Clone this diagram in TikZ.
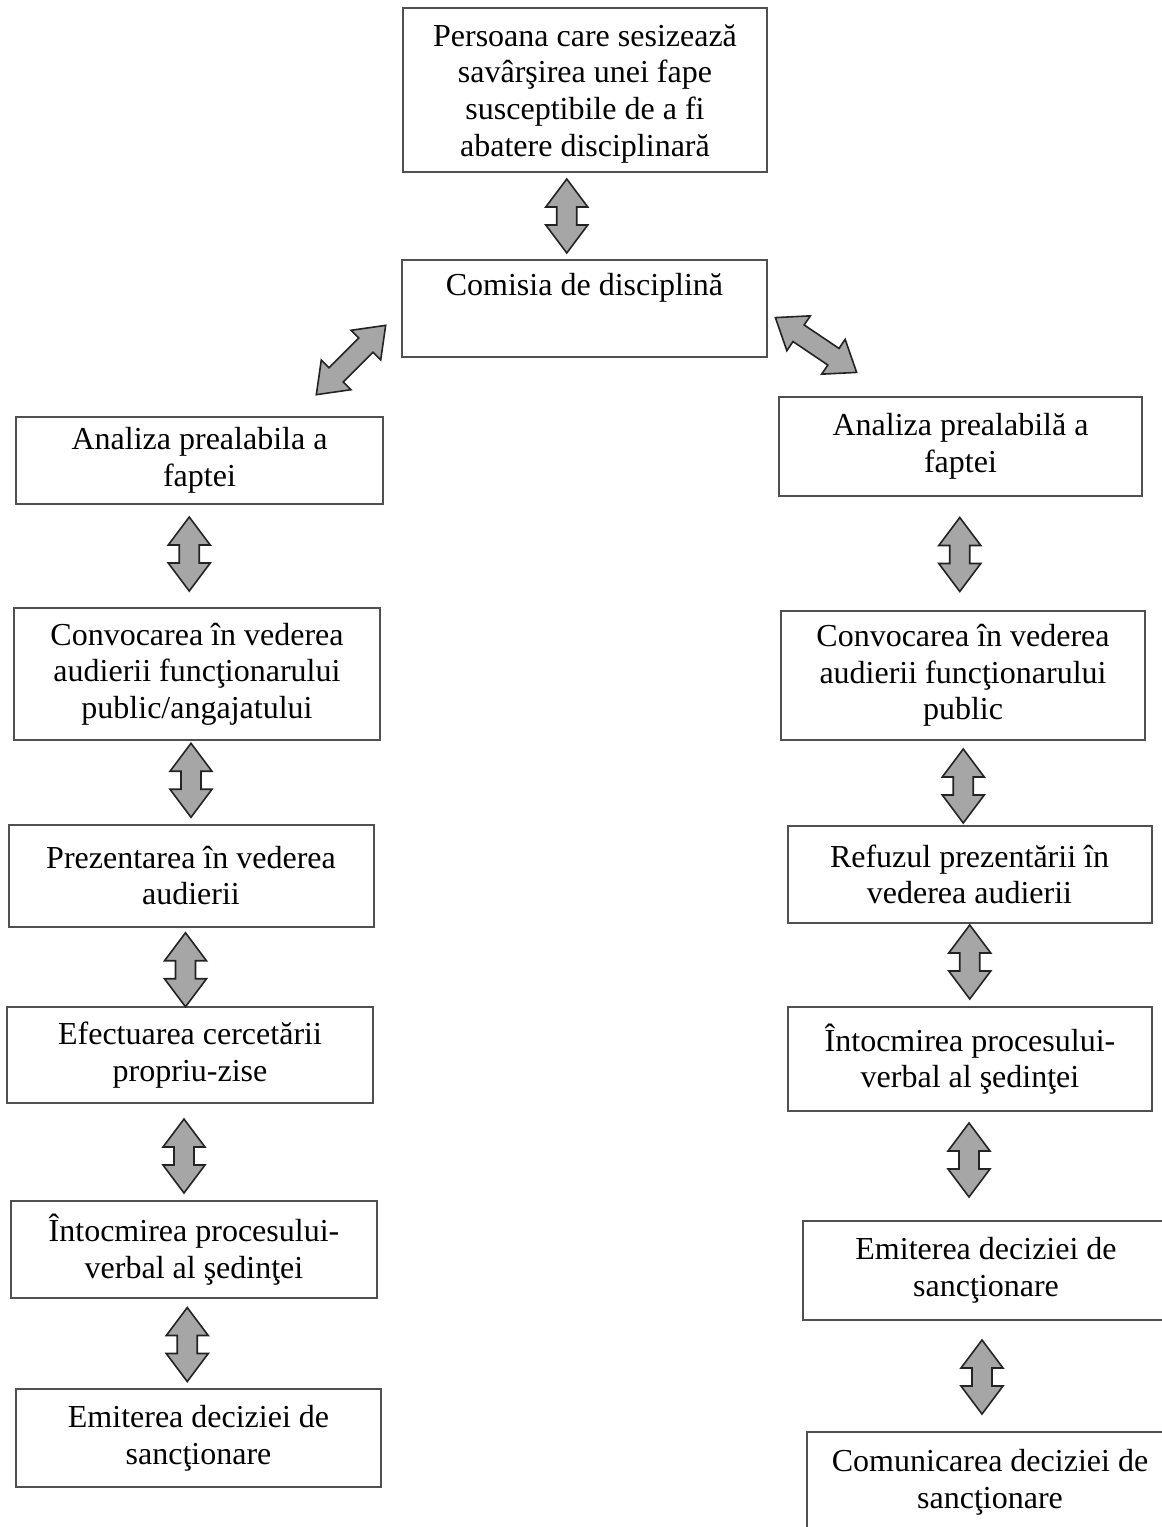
\documentclass[tikz,border=0pt]{standalone}
\usepackage{fontspec}
\setmainfont{Liberation Serif}
\usepackage{xcolor}
\usepackage{tikz}
\usetikzlibrary{calc}

\definecolor{boxline}{RGB}{80,80,80}
\definecolor{arrowfill}{RGB}{166,166,166}
\definecolor{arrowedge}{RGB}{35,35,35}

\tikzset{
  box/.style={draw=boxline, line width=1.5pt, fill=white, align=center, inner sep=0pt,
    font=\fontsize{24}{27.5}\selectfont},
  arrowbody/.style={draw=arrowedge, fill=arrowfill, line width=1.2pt, line join=miter},
  pics/dblarrow/.style={code={
    \draw[arrowbody] (-#1,0) -- (-#1+28,21) -- (-#1+28,10) -- (#1-28,10) -- (#1-28,21) -- (#1,0)
      -- (#1-28,-21) -- (#1-28,-10) -- (-#1+28,-10) -- (-#1+28,-21) -- cycle;
  }},
  pics/dblarrow/.default=37
}

\begin{document}
\begin{tikzpicture}[x=0.75pt,y=0.75pt,yscale=-1,xscale=1]
\useasboundingbox (0,0) rectangle (1162,1527);
\clip (0,0) rectangle (1162,1527);

% Top and commission
\node[box, minimum width=273pt, minimum height=123pt] (sesizare) at (585,90)
  {\rule{0pt}{22pt}Persoana care sesizează\\savârşirea unei fape\\susceptibile de a fi\\abatere disciplinară};
\node[box, minimum width=273.75pt, minimum height=72.75pt] (comisia) at (584.5,308.5)
  {Comisia de disciplină\\ \strut};

% Left column
\node[box, minimum width=275.25pt, minimum height=65.25pt] (stAnaliza) at (199.5,460.5)
  {Analiza prealabila a\\faptei};
\node[box, minimum width=274.5pt, minimum height=99pt] (stConvocare) at (197,674)
  {Convocarea în vederea\\audierii funcţionarului\\public/angajatului};
\node[box, minimum width=273.75pt, minimum height=76.5pt] (stPrezentare) at (191,875.5)
  {Prezentarea în vederea\\audierii};
\node[box, minimum width=274.5pt, minimum height=72pt] (stCercetare) at (190,1055)
  {Efectuarea cercetării\\propriu-zise};
\node[box, minimum width=274.5pt, minimum height=72.75pt] (stProces) at (194,1249.5)
  {Întocmirea procesului-\\verbal al şedinţei};
\node[box, minimum width=273.75pt, minimum height=73.5pt] (stDecizie) at (198.5,1438)
  {Emiterea deciziei de\\sancţionare};

% Right column
\node[box, minimum width=272.25pt, minimum height=74.25pt] (drAnaliza) at (960.5,446.5)
  {Analiza prealabilă a\\faptei};
\node[box, minimum width=273pt, minimum height=96.75pt] (drConvocare) at (963,675.5)
  {Convocarea în vederea\\audierii funcţionarului\\public};
\node[box, minimum width=273pt, minimum height=72.75pt] (drRefuz) at (969.5,874.5)
  {Refuzul prezentării în\\vederea audierii};
\node[box, minimum width=273pt, minimum height=78pt] (drProces) at (970,1059)
  {Întocmirea procesului-\\verbal al şedinţei};
\node[box, minimum width=274.5pt, minimum height=74.25pt] (drDecizie) at (986,1270.5)
  {Emiterea deciziei de\\sancţionare};
\node[box, minimum width=274.5pt, minimum height=75pt] (drComunicare) at (990,1482)
  {Comunicarea deciziei de\\sancţionare};

% Vertical double arrows
\foreach \a/\b/\dx/\dy in {sesizare/comisia/-18/0,
    stAnaliza/stConvocare/-9/-2, stConvocare/stPrezentare/-3/-2, stPrezentare/stCercetare/-5/3,
    stCercetare/stProces/-8/4, stProces/stDecizie/-9/1,
    drAnaliza/drConvocare/-2/1, drConvocare/drRefuz/-3/3, drRefuz/drProces/0/-3,
    drProces/drDecizie/-9/-6, drDecizie/drComunicare/-6/1}
  \pic[rotate=90] at ($(\a.south)!0.5!(\b.north)+(\dx,\dy)$) {dblarrow};

% Diagonal double arrows
\coordinate (diagSt) at ($(comisia.south west)+(-50,2)$);
\coordinate (diagDr) at ($(comisia.south east)+(48,-13)$);
\pic[rotate=45] at (diagSt) {dblarrow=49};
\pic[rotate=-34] at (diagDr) {dblarrow=49};
\end{tikzpicture}
\end{document}
